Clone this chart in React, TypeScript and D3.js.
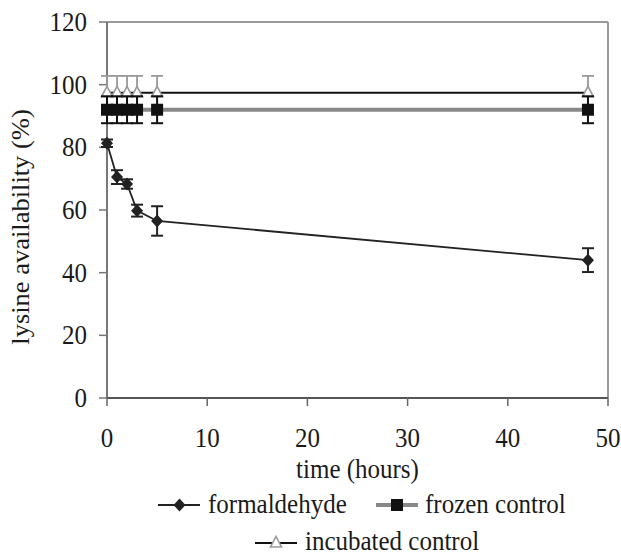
import React from "react";
import * as d3 from "d3";

const times = [0, 1, 2, 3, 5, 48];
const formaldehyde = [81.3, 70.5, 68.3, 59.8, 56.5, 44];
const formaldehydeErr = [1.2, 2.2, 1.5, 1.9, 4.7, 3.8];
const frozen = [92, 92, 92, 92, 92, 92];
const frozenErr = [4.3, 4.3, 4.3, 4.3, 4.3, 4.3];
const incubated = [97.4, 97.4, 97.4, 97.4, 97.4, 97.4];
const incubatedErr = [5.4, 5.4, 5.4, 5.4, 5.4, 5.4];
const xTicks = [0, 10, 20, 30, 40, 50];
const yTicks = [0, 20, 40, 60, 80, 100, 120];

const W = 621, H = 556;
const L = 107, R = 608, T = 22, B = 398;
const FONT = '"Liberation Serif", "Times New Roman", Times, serif';
const FS = 25;
const SY = 1.08;

function Txt({ x, y, anchor = "start", children }: any) {
  return (
    <text
      transform={`translate(${x},${y}) scale(1,${SY})`}
      textAnchor={anchor}
      style={{ fontFamily: FONT, fontSize: FS, fill: "#1a1a1a" }}
    >
      {children}
    </text>
  );
}

export default function App() {
  const x = d3.scaleLinear().domain([0, 50]).range([L, R]);
  const y = d3.scaleLinear().domain([0, 120]).range([B, T]);
  const line = d3.line<number>().x((_, i) => x(times[i])).y((v) => y(v));

  const errBars = (vals: number[], errs: number[], color: string, w: number) =>
    vals.map((v, i) => {
      const cx = x(times[i]);
      return (
        <g key={i} stroke={color} strokeWidth={w}>
          <line x1={cx} x2={cx} y1={y(v - errs[i])} y2={y(v + errs[i])} />
          <line x1={cx - 6} x2={cx + 6} y1={y(v - errs[i])} y2={y(v - errs[i])} />
          <line x1={cx - 6} x2={cx + 6} y1={y(v + errs[i])} y2={y(v + errs[i])} />
        </g>
      );
    });

  const diamond = (cx: number, cy: number, k: any) => (
    <path key={k} d={`M${cx},${cy - 6.5}L${cx + 6},${cy}L${cx},${cy + 6.5}L${cx - 6},${cy}Z`} fill="#222" />
  );
  const square = (cx: number, cy: number, k: any) => (
    <rect key={k} x={cx - 6} y={cy - 6} width={12} height={12} fill="#111" />
  );
  const tri = (cx: number, cy: number, k: any) => (
    <path key={k} d={`M${cx},${cy - 6.5}L${cx + 5.5},${cy + 4}L${cx - 5.5},${cy + 4}Z`} fill="#fff" stroke="#999" strokeWidth={1.6} />
  );

  return (
    <svg width={W} height={H} style={{ position: "absolute", left: 0, top: 0, background: "#fff" }}>
      <line x1={L} x2={R} y1={T} y2={T} stroke="#999" strokeWidth={2} />
      <line x1={R} x2={R} y1={T} y2={B} stroke="#999" strokeWidth={2} />
      <line x1={L} x2={L} y1={T} y2={B} stroke="#777" strokeWidth={2} />
      <line x1={L} x2={R} y1={B} y2={B} stroke="#555" strokeWidth={2} />
      {yTicks.map((t) => (
        <g key={"y" + t}>
          <line x1={L - 8} x2={L} y1={y(t)} y2={y(t)} stroke="#777" strokeWidth={1.5} />
          <Txt x={87} y={y(t) + 9} anchor="end">{t}</Txt>
        </g>
      ))}
      {xTicks.map((t) => (
        <g key={"x" + t}>
          <line x1={x(t)} x2={x(t)} y1={B} y2={B + 8} stroke="#666" strokeWidth={1.5} />
          <Txt x={x(t)} y={447} anchor="middle">{t}</Txt>
        </g>
      ))}
      <Txt x={(L + R) / 2} y={478} anchor="middle">time (hours)</Txt>
      <text
        transform={`translate(29,227) rotate(-90) scale(1.06,1)`}
        textAnchor="middle"
        style={{ fontFamily: FONT, fontSize: FS, fill: "#1a1a1a" }}
      >
        lysine availability (%)
      </text>

      {errBars(incubated, incubatedErr, "#999", 1.8)}
      <path d={line(incubated) || ""} fill="none" stroke="#111" strokeWidth={2} />
      {incubated.map((v, i) => tri(x(times[i]), y(v), "t" + i))}

      {errBars(frozen, frozenErr, "#111", 2)}
      <path d={line(frozen) || ""} fill="none" stroke="#888" strokeWidth={4} />
      {frozen.map((v, i) => square(x(times[i]), y(v), "s" + i))}

      {errBars(formaldehyde, formaldehydeErr, "#222", 2)}
      <path d={line(formaldehyde) || ""} fill="none" stroke="#222" strokeWidth={1.8} />
      {formaldehyde.map((v, i) => diamond(x(times[i]), y(v), "d" + i))}

      <line x1={158} x2={200} y1={505} y2={505} stroke="#222" strokeWidth={1.8} />
      {diamond(179.5, 505, "ld")}
      <Txt x={208} y={513}>formaldehyde</Txt>
      <line x1={376} x2={418} y1={505} y2={505} stroke="#888" strokeWidth={4} />
      {square(397, 505, "ls")}
      <Txt x={425} y={513}>frozen control</Txt>
      <line x1={255} x2={297} y1={543} y2={543} stroke="#111" strokeWidth={1.8} />
      {tri(276, 543, "lt")}
      <Txt x={305} y={550}>incubated control</Txt>
    </svg>
  );
}
